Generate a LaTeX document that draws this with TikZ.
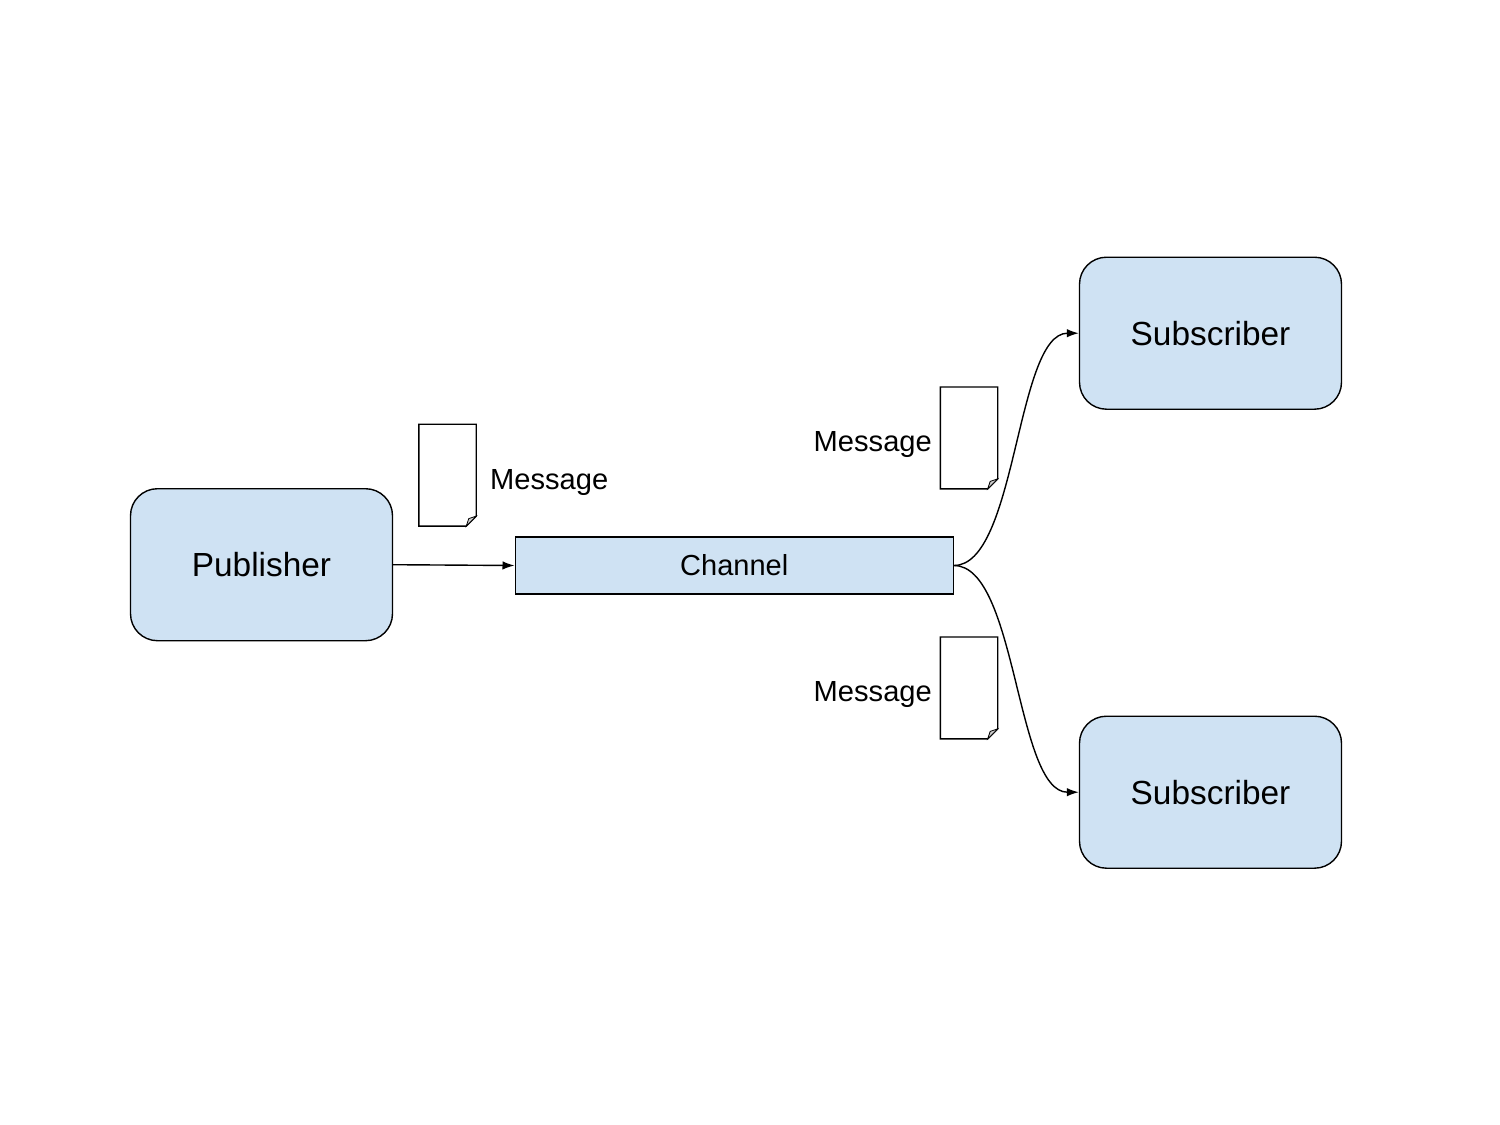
\documentclass[tikz,border=0pt]{standalone}
\usepackage{fontspec}
\setmainfont{Liberation Sans}
\usetikzlibrary{arrows.meta}
\definecolor{boxblue}{HTML}{CFE2F3}
\definecolor{foldgrey}{HTML}{CCCCCC}
\tikzset{
  actor/.style={draw=black,fill=boxblue,line width=1.4pt,rounded corners=27pt,minimum width=262pt,minimum height=152pt,inner sep=0pt,font=\fontsize{33.4pt}{38pt}\selectfont},
  channel/.style={draw=black,fill=boxblue,line width=1.4pt,minimum width=438pt,minimum height=57pt,inner sep=0pt,font=\fontsize{29pt}{34pt}\selectfont},
  msglabel/.style={inner sep=0pt,font=\fontsize{29.1pt}{34pt}\selectfont},
  docarea/.style={minimum width=57pt,minimum height=101.5pt,inner sep=0pt},
  docline/.style={draw=black,fill=white,line width=1.4pt,line join=miter},
  foldline/.style={draw=black,fill=foldgrey,line width=0.8pt},
  flow/.style={draw=black,line width=1.4pt,-{Latex[length=12pt,width=8.5pt]}}
}
\newcommand{\docpage}[1]{%
  \path[docline] (#1.north west) -- (#1.north east) -- ([yshift=10pt]#1.south east) -- ([xshift=-10pt]#1.south east) -- (#1.south west) -- cycle;
  \path[foldline] ([xshift=-10pt]#1.south east) -- ([yshift=10pt]#1.south east) -- ([xshift=-7.5pt,yshift=7.5pt]#1.south east) -- cycle;
}
\begin{document}
\begin{tikzpicture}[x=1pt,y=-1pt]
\useasboundingbox (0,0) rectangle (1500,1125);
\fill[white] (0,0) rectangle (1500,1125);
\node[actor] (pub) at (261.5,564.7) {Publisher};
\node[actor] (subA) at (1210.5,333.2) {\raisebox{-0.8pt}{Subscriber}};
\node[actor] (subB) at (1210.5,792.2) {\raisebox{-0.8pt}{Subscriber}};
\node[channel] (chan) at (734.2,565.5) {\raisebox{-1.6pt}{Channel}};
\node[docarea] (docA) at (447.5,475.2) {};
\node[docarea] (docB) at (969,437.9) {};
\node[docarea] (docC) at (969,687.9) {};
\docpage{docA}
\docpage{docB}
\docpage{docC}
\node[msglabel,anchor=west] (msgA) at (490,482.5) {Message};
\node[msglabel,anchor=east] (msgB) at (932,444.5) {Message};
\node[msglabel,anchor=east] (msgC) at (932,694.5) {Message};
\draw[flow] (pub.east) -- (chan.west);
\draw[flow] (chan.east) .. controls +(63,0) and +(-63,0) .. (subA.west);
\draw[flow] (chan.east) .. controls +(63,0) and +(-63,0) .. (subB.west);
\end{tikzpicture}
\end{document}
